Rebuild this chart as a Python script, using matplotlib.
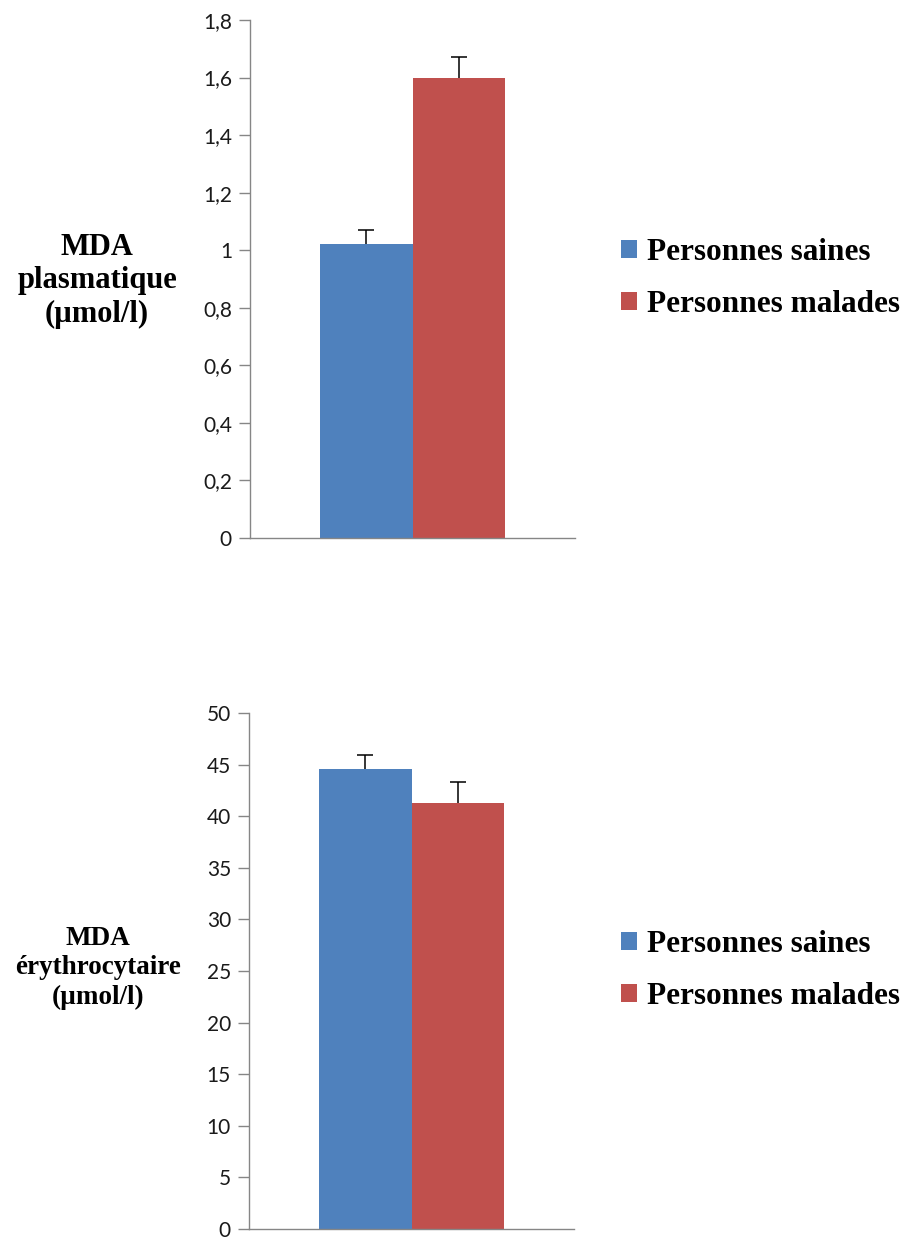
import matplotlib
matplotlib.use("Agg")
import matplotlib.pyplot as plt
from matplotlib.ticker import MultipleLocator, FuncFormatter

# Data
groups = ["Personnes saines", "Personnes malades"]
colors = ["#4F81BD", "#C0504D"]

plasma_values = [1.02, 1.60]
plasma_errors = [0.05, 0.07]

erythro_values = [44.6, 41.3]
erythro_errors = [1.3, 2.0]

W, H = 907, 1238
fig = plt.figure(figsize=(W / 100, H / 100), dpi=100)

tick_font = {"family": "Lato", "size": 15}
label_font = dict(family="Liberation Serif", weight="bold")
legend_prop = dict(family="Liberation Serif", weight="bold", size=22.5)
axis_grey = "#868686"


def comma_fmt(v, _):
    s = f"{v:.1f}".rstrip("0").rstrip(".")
    return s.replace(".", ",")


def draw_panel(rect, values, errors, ymax, step, fmt):
    ax = fig.add_axes(rect)
    width = 1.0
    offsets = [-width / 2, width / 2]
    for off, v, e, c, g in zip(offsets, values, errors, colors, groups):
        ax.bar(off, v, width=width, color=c, label=g, zorder=2)
        _, caps, _ = ax.errorbar(off, v, yerr=[[0], [e]], fmt="none",
                                 ecolor="black", elinewidth=1.1, capsize=6,
                                 capthick=1.1, zorder=3)
        # only the upper whisker is shown
        caps[0].set_visible(False)
    ax.set_xlim(-1.75, 1.75)
    ax.set_ylim(0, ymax)
    ax.yaxis.set_major_locator(MultipleLocator(step))
    ax.yaxis.set_major_formatter(FuncFormatter(fmt))
    ax.set_xticks([])
    for side in ("top", "right"):
        ax.spines[side].set_visible(False)
    for side in ("left", "bottom"):
        ax.spines[side].set_color(axis_grey)
        ax.spines[side].set_linewidth(1.0)
    ax.tick_params(axis="y", direction="out", length=8, width=1.0,
                   color=axis_grey, pad=5)
    for t in ax.get_yticklabels():
        t.set_fontfamily(tick_font["family"])
        t.set_fontsize(tick_font["size"])
        t.set_color("#1a1a1a")
    return ax


def add_legend(ax, y_px):
    ax.legend(loc="center left", bbox_to_anchor=(621 / W, 1 - y_px / H),
              bbox_transform=fig.transFigure, frameon=False, borderpad=0,
              borderaxespad=0, handlelength=0.52, handleheight=0.52,
              handletextpad=0.3, labelspacing=0.75, prop=legend_prop)


# Top panel: plasma MDA
ax1 = draw_panel([250 / W, 1 - 538 / H, 325 / W, 518 / H],
                 plasma_values, plasma_errors, 1.8, 0.2, comma_fmt)
fig.text(97 / W, 1 - 281 / H, "MDA\nplasmatique\n(µmol/l)", ha="center",
         va="center", fontsize=22, linespacing=1.2, **label_font)
add_legend(ax1, 278.5)

# Bottom panel: erythrocyte MDA
ax2 = draw_panel([249 / W, 1 - 1229 / H, 325 / W, 516 / H],
                 erythro_values, erythro_errors, 50, 5,
                 lambda v, _: f"{v:.0f}")
fig.text(98 / W, 1 - 968 / H, "MDA\nérythrocytaire\n(µmol/l)", ha="center",
         va="center", fontsize=19.5, linespacing=1.25, **label_font)
add_legend(ax2, 970.5)

fig.savefig("out.png", dpi=100)
